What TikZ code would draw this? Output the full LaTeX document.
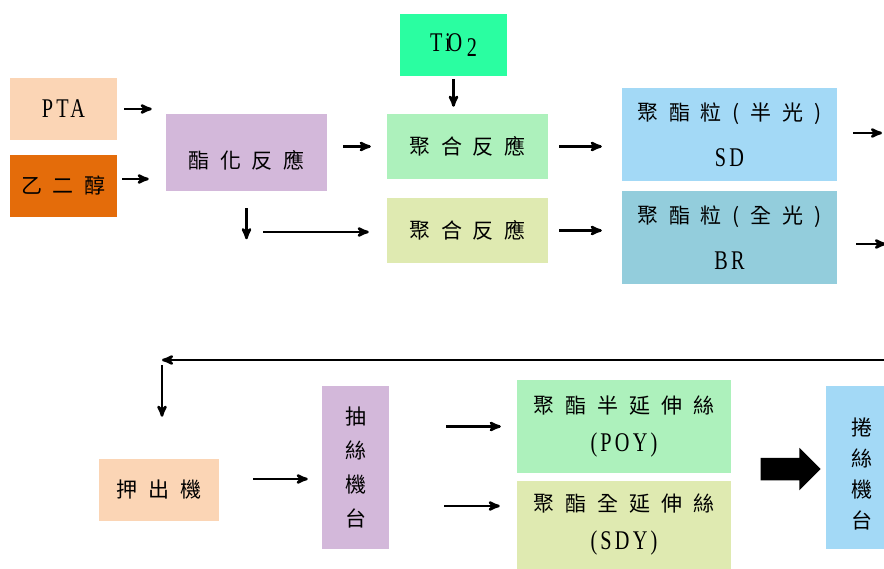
\documentclass[tikz,border=0pt]{standalone}
\usepackage{color}
\usepackage{fontspec}
\setmainfont{Liberation Serif}
\newfontfamily\cjk[LetterSpace=52]{Noto Sans CJK TC}
\newfontfamily\cjkcol{Noto Sans CJK TC}
\newfontfamily\latin[FakeStretch=0.75,LetterSpace=12]{Liberation Serif}
\newcommand{\latn}[1]{{\latin\fontsize{27}{27}\selectfont #1}}
\usetikzlibrary{arrows,shapes.arrows}

\definecolor{peach}{HTML}{FBD5B5}
\definecolor{rust}{HTML}{E46C0A}
\definecolor{lilac}{HTML}{D3B8DA}
\definecolor{mint}{HTML}{2AFEA1}
\definecolor{pale green}{HTML}{ADF1BC}
\definecolor{pale olive}{HTML}{DFEAB1}
\definecolor{sky}{HTML}{A3D9F6}
\definecolor{teal blue}{HTML}{93CDDC}

\begin{document}
\begin{tikzpicture}[x=1pt,y=-1pt,>=stealth',line width=2.5pt]
		\tikzstyle{box}=[rectangle, inner sep=0pt, align=center, font=\fontsize{21}{34}\selectfont\cjk]
		\tikzstyle{column}=[box, font=\fontsize{21}{34}\selectfont\cjkcol]
		\tikzstyle{flow}=[->, line width=2.6pt]

		\useasboundingbox (0,0) rectangle (884,569);
		\clip (0,0) rectangle (884,569);

		% raw materials and esterification
		\node [box, fill=peach, minimum width=107pt, minimum height=62pt] (pta) at (63.5,109) {\latn{PTA}};
		\node [box, fill=rust, minimum width=107pt, minimum height=62pt] (eg) at (63.5,186) {乙二醇};
		\node [box, fill=lilac, minimum width=161pt, minimum height=77pt, text height=34pt, text depth=2pt] (ester) at (246.5,152.5) {酯化反應};
		\node [box, fill=mint, minimum width=107pt, minimum height=62pt] (tio) at (453.5,45) {\latn{Ti\kern-3pt O\,\raisebox{-5pt}{2}}};

		% polymerisation
		\node [box, fill=pale green, minimum width=161pt, minimum height=65pt] (polya) at (467.5,146.5) {聚合反應};
		\node [box, fill=pale olive, minimum width=161pt, minimum height=65pt] (polyb) at (467.5,230.5) {聚合反應};
		\node [box, fill=sky, minimum width=215pt, minimum height=93pt, font=\fontsize{21}{46}\selectfont\cjk] (sd) at (729.5,134.5) {聚酯粒(半光)\\\latn{SD}};
		\node [box, fill=teal blue, minimum width=215pt, minimum height=93pt, font=\fontsize{21}{46}\selectfont\cjk] (br) at (729.5,238) {聚酯粒(全光)\\\latn{BR}};

		% spinning
		\node [box, fill=peach, minimum width=120pt, minimum height=62pt] (ext) at (159,490) {押出機};
		\node [column, fill=lilac, minimum width=67pt, minimum height=163pt] (spin) at (355.5,467.5) {抽\\絲\\機\\台};
		\node [box, fill=pale green, minimum width=214pt, minimum height=93pt, font=\fontsize{21}{38}\selectfont\cjk] (poy) at (624,426.5) {聚酯半延伸絲\\\latn{(POY)}};
		\node [box, fill=pale olive, minimum width=214pt, minimum height=88pt, font=\fontsize{21}{38}\selectfont\cjk] (sdy) at (624,525) {聚酯全延伸絲\\\latn{(SDY)}};
		\node [single arrow, fill=black, inner sep=10pt, minimum height=60pt, single arrow head extend=10pt] (big) at (785,469) {};
		\node [column, fill=sky, minimum width=72pt, minimum height=163pt, font=\fontsize{21}{31}\selectfont\cjkcol] (wind) at (862,467.5) {\\捲\\絲\\機\\台};

		\coordinate (egout) at ([yshift=7pt]eg.east);
		\coordinate (fork) at (263,232);
		\coordinate (outa) at (882,133);
		\coordinate (outb) at (886,244);
		\coordinate (back) at (890,360);
		\coordinate (turn) at (162,360);
		\coordinate (extout) at ([yshift=11pt]ext.east);
		\coordinate (sdyin) at ([yshift=19pt]sdy.west);

		\draw [flow, shorten <=6pt, shorten >=13pt] (pta.east) -- (pta.east -| ester.west);
		\draw [flow, shorten <=4pt, shorten >=16pt] (egout) -- (egout -| ester.west);
		\draw [flow, shorten <=15pt, shorten >=15pt] (ester.east |- polya.west) -- (polya.west);
		\draw [flow, shorten <=16pt] (ester.south) -- ([yshift=-47pt]ester.south);
		\draw [flow, shorten >=17pt] (fork) -- (fork -| polyb.west);
		\draw [flow, shorten <=2pt, shorten >=6pt] (tio.south) -- (tio.south |- polya.north);
		\draw [flow, shorten <=10pt, shorten >=19pt] (polya.east) -- (polya.east -| sd.west);
		\draw [flow, shorten <=10pt, shorten >=19pt] (polyb.east) -- (polyb.east -| br.west);
		\draw [flow, shorten <=15pt] (sd.east |- outa) -- (outa);
		\draw [flow, shorten <=18pt] (br.east |- outb) -- (outb);
		\draw [flow] (back) -- (turn);
		\draw [flow, shorten <=5pt, shorten >=41pt] (turn) -- (turn |- ext.north);
		\draw [flow, shorten <=33pt, shorten >=13pt] (extout) -- (extout -| spin.west);
		\draw [flow, shorten <=56pt, shorten >=15pt] (spin.east |- poy.west) -- (poy.west);
		\draw [flow, shorten <=54pt, shorten >=16pt] (spin.east |- sdyin) -- (sdyin);
	\end{tikzpicture}
\end{document}
